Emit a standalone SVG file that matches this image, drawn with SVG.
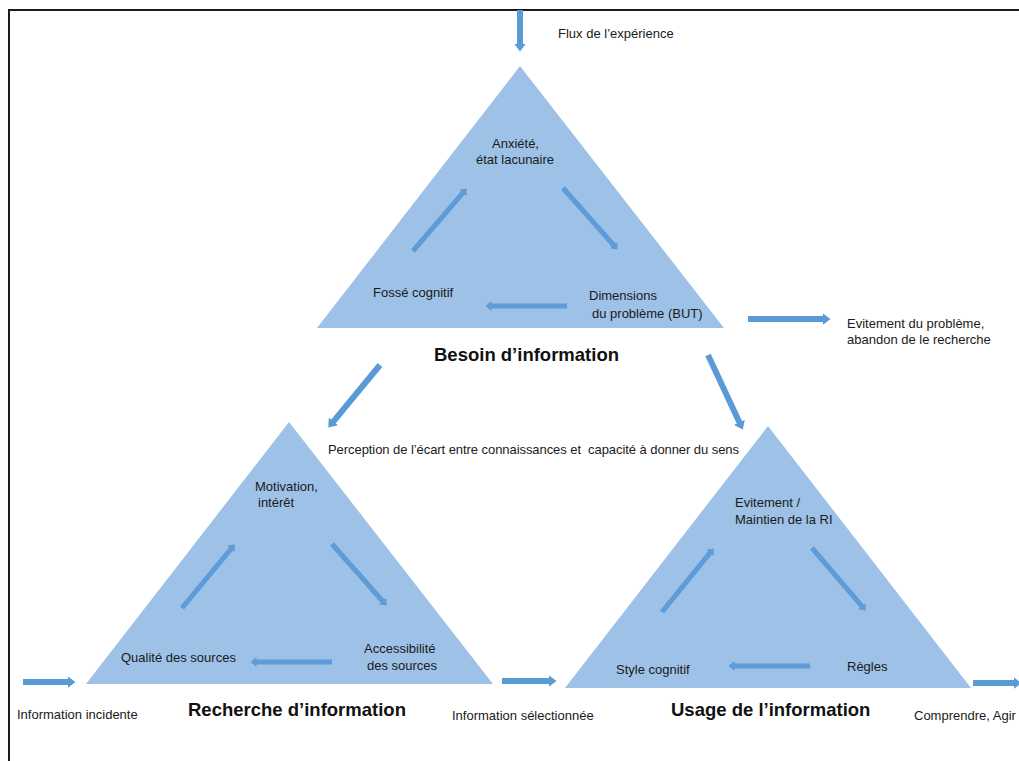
<svg xmlns="http://www.w3.org/2000/svg" width="1019" height="761" viewBox="0 0 1019 761">
<style>
.tri{fill:#9DC1E7;}
.t{font-family:"Liberation Sans",Arial,sans-serif;font-size:13px;fill:#1a1a1a;white-space:pre;}
.b{font-family:"Liberation Sans",Arial,sans-serif;font-size:18.5px;font-weight:bold;fill:#111;}
.ar{stroke:#5B9BD5;stroke-width:6;fill:none;marker-end:url(#big);}
.ai{stroke:#5D9CD8;stroke-width:5;fill:none;marker-end:url(#small);}
</style>
<defs>
<marker id="big" markerUnits="userSpaceOnUse" markerWidth="8" markerHeight="12" viewBox="0 0 8 12" refX="0.5" refY="6" orient="auto"><path d="M0,0 L8,6 L0,12 Z" fill="#5B9BD5"/></marker>
<marker id="small" markerUnits="userSpaceOnUse" markerWidth="6" markerHeight="10" viewBox="0 0 6 10" refX="0.5" refY="5" orient="auto"><path d="M0,0 L6,5 L0,10 Z" fill="#5D9CD8"/></marker>
</defs>
<rect width="1019" height="761" fill="#fff"/>
<path d="M9,761 V10 H1019" fill="none" stroke="#1a1a1a" stroke-width="2"/>

<g id="besoin">
<polygon class="tri" points="520,66 317,328 724,328"/>
<line class="ai" x1="413" y1="251" x2="463.1" y2="192.6"/>
<line class="ai" x1="563" y1="188" x2="614" y2="245.5"/>
<line class="ai" x1="567" y1="306" x2="491" y2="306"/>
<text class="t" x="492" y="148">Anxiété,</text>
<text class="t" x="476" y="164">état lacunaire</text>
<text class="t" x="373" y="297">Fossé cognitif</text>
<text class="t" x="589" y="300">Dimensions</text>
<text class="t" x="592" y="318">du problème (BUT)</text>
<text class="b" x="434" y="361">Besoin d’information</text>
</g>

<g id="recherche">
<polygon class="tri" points="289,422 86,684 493,684"/>
<line class="ai" x1="182" y1="608" x2="231.2" y2="548.6"/>
<line class="ai" x1="332" y1="544" x2="383" y2="601.5"/>
<line class="ai" x1="332" y1="662" x2="256" y2="662"/>
<text class="t" x="255" y="491">Motivation,</text>
<text class="t" x="258" y="507">intérêt</text>
<text class="t" x="121" y="662">Qualité des sources</text>
<text class="t" x="364" y="653">Accessibilité</text>
<text class="t" x="367" y="670">des sources</text>
<text class="b" x="188" y="716">Recherche d’information</text>
</g>

<g id="usage">
<polygon class="tri" points="768,426 565,688 971,688"/>
<line class="ai" x1="662" y1="612" x2="710.2" y2="552.7"/>
<line class="ai" x1="812" y1="548" x2="862.1" y2="606.4"/>
<line class="ai" x1="810" y1="666" x2="734" y2="666"/>
<text class="t" x="735" y="507">Evitement /</text>
<text class="t" x="735" y="524">Maintien de la RI</text>
<text class="t" x="616" y="674">Style cognitif</text>
<text class="t" x="847" y="671">Règles</text>
<text class="b" x="671" y="716">Usage de l’information</text>
</g>

<g id="connectors">
<line class="ar" x1="520" y1="10" x2="520" y2="44"/>
<line class="ar" x1="748" y1="319" x2="823" y2="319"/>
<line class="ar" x1="380" y1="365" x2="333.1" y2="421.8"/>
<line class="ar" x1="708" y1="355" x2="739.6" y2="422.8"/>
<line class="ar" x1="23" y1="682" x2="68" y2="682"/>
<line class="ar" x1="502" y1="681" x2="549" y2="681"/>
<line class="ar" x1="973" y1="683" x2="1014" y2="683"/>
</g>

<g id="labels">
<text class="t" x="558" y="38">Flux de l’expérience</text>
<text class="t" x="847" y="328">Evitement du problème,</text>
<text class="t" x="847" y="344">abandon de le recherche</text>
<text class="t" x="328" y="454" textLength="411">Perception de l’écart entre connaissances et  capacité à donner du sens</text>
<text class="t" x="17" y="719">Information incidente</text>
<text class="t" x="452" y="720">Information sélectionnée</text>
<text class="t" x="914" y="720">Comprendre, Agir</text>
</g>
</svg>
